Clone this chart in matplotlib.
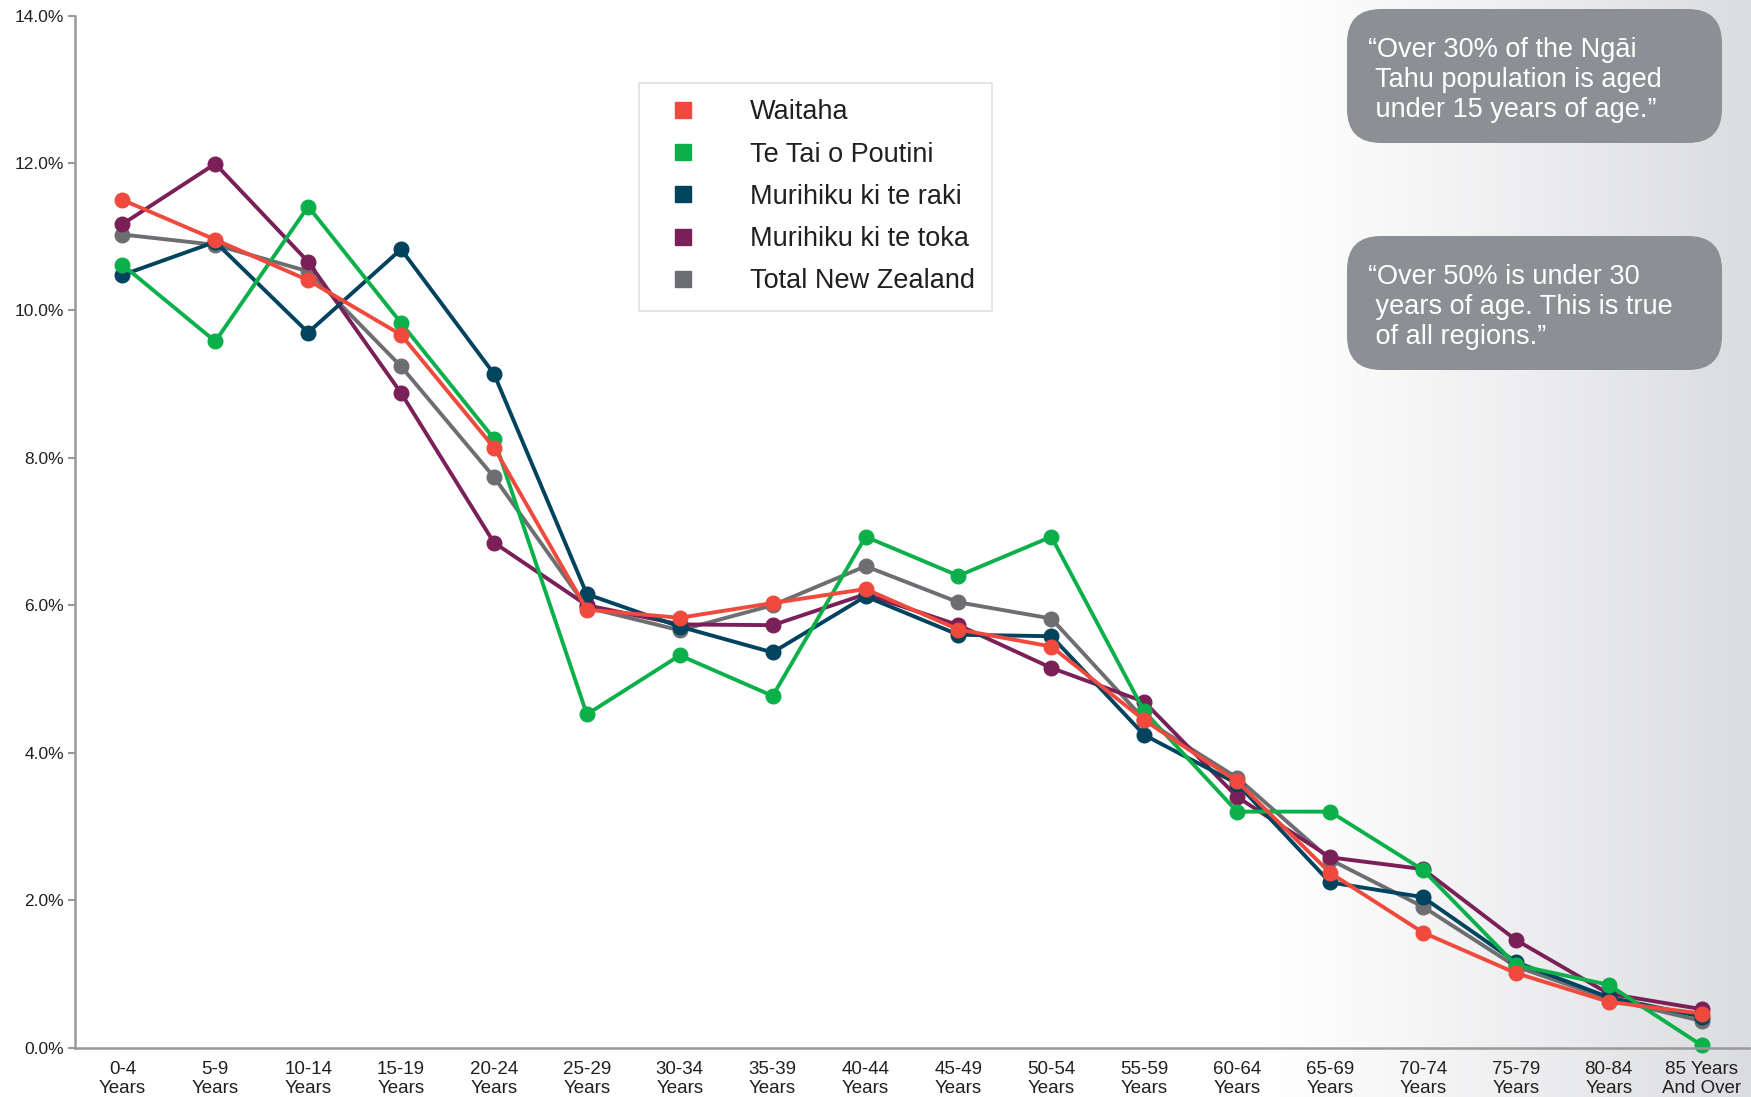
import numpy as np
import matplotlib
matplotlib.use('Agg')
import matplotlib.pyplot as plt
from matplotlib.lines import Line2D
from matplotlib.patches import FancyBboxPatch

plt.rcParams['font.family'] = ['Liberation Sans', 'DejaVu Sans']

# age bands
age_groups = ['0-4\nYears', '5-9\nYears', '10-14\nYears', '15-19\nYears', '20-24\nYears',
              '25-29\nYears', '30-34\nYears', '35-39\nYears', '40-44\nYears', '45-49\nYears',
              '50-54\nYears', '55-59\nYears', '60-64\nYears', '65-69\nYears', '70-74\nYears',
              '75-79\nYears', '80-84\nYears', '85 Years\nAnd Over']

# share of population per age band (%)
waitaha = [11.50, 10.96, 10.41, 9.67, 8.14, 5.94, 5.83, 6.03, 6.22, 5.67,
           5.44, 4.44, 3.61, 2.37, 1.56, 1.01, 0.62, 0.46]
te_tai_o_poutini = [10.62, 9.58, 11.41, 9.83, 8.26, 4.52, 5.32, 4.77, 6.93, 6.40,
                    6.93, 4.56, 3.20, 3.20, 2.41, 1.12, 0.85, 0.03]
murihiku_raki = [10.48, 10.93, 9.70, 10.83, 9.14, 6.15, 5.71, 5.36, 6.12, 5.60,
                 5.58, 4.24, 3.58, 2.24, 2.04, 1.16, 0.68, 0.42]
murihiku_toka = [11.17, 11.99, 10.66, 8.88, 6.85, 6.00, 5.74, 5.73, 6.15, 5.73,
                 5.15, 4.69, 3.40, 2.58, 2.42, 1.46, 0.73, 0.52]
total_nz = [11.03, 10.89, 10.53, 9.24, 7.74, 5.97, 5.66, 6.00, 6.53, 6.04,
            5.82, 4.45, 3.66, 2.55, 1.91, 1.10, 0.66, 0.36]

series_names = ['Waitaha', 'Te Tai o Poutini', 'Murihiku ki te raki',
                'Murihiku ki te toka', 'Total New Zealand']
series_values = [waitaha, te_tai_o_poutini, murihiku_raki, murihiku_toka, total_nz]
series_colors = ['#ef4a3d', '#0cb04b', '#00435e', '#7b1f58', '#6d6e72']

callout_1 = '\u201cOver 30% of the Ng\u0101i\n Tahu population is aged\n under 15 years of age.\u201d'
callout_2 = '\u201cOver 50% is under 30\n years of age. This is true\n of all regions.\u201d'

W, H = 1751, 1097
fig = plt.figure(figsize=(W / 100, H / 100), dpi=100)

# background layer in pixel units: gradient + callout boxes
bg = fig.add_axes([0, 0, 1, 1], zorder=0)
bg.set_xlim(0, W)
bg.set_ylim(H, 0)
bg.axis('off')
px = np.arange(W)
t = np.clip((px - 1260) / (W - 1260), 0, 1) ** 1.15
start = np.array([1.0, 1.0, 1.0])
end = np.array([219, 220, 223]) / 255
img = (start[None, :] * (1 - t[:, None]) + end[None, :] * t[:, None])[None, :, :]
bg.imshow(img, extent=(0, W, H, 0), aspect='auto')

for y0, txt in [(9, callout_1), (236, callout_2)]:
    bg.add_patch(FancyBboxPatch((1347, y0), 375, 134,
                                boxstyle='round,pad=0,rounding_size=34',
                                fc='#8c9094', ec='none'))
    bg.text(1368, y0 + 71, txt, color='white', fontsize=19.5,
            ha='left', va='center', linespacing=1.2)

# main chart
ax = fig.add_axes([75 / W, 1 - 1047.5 / H, (1749 - 75) / W, (1047.5 - 15.6) / H], zorder=1)
ax.set_facecolor('none')

x = np.arange(len(age_groups))
# draw total NZ first so the regions sit on top, Waitaha last
for name, vals, col in reversed(list(zip(series_names, series_values, series_colors))):
    ax.plot(x, vals, color=col, lw=2.8, marker='o', ms=10.5, clip_on=False, label=name)

ax.set_xlim(-0.51, 17.51)
ax.set_ylim(0, 14)
ax.set_xticks(x)
ax.set_xticklabels(age_groups, fontsize=13.5, color='#231f20', linespacing=1.14)
ax.set_yticks(np.arange(0, 15, 2))
ax.set_yticklabels([f'{v:.1f}%' for v in np.arange(0, 15, 2)], fontsize=12.5, color='#231f20')
ax.tick_params(axis='x', length=0, pad=9.5)
ax.tick_params(axis='y', length=5, width=1.5, color='#999999', pad=3)

for s in ['top', 'right']:
    ax.spines[s].set_visible(False)
for s in ['left', 'bottom']:
    ax.spines[s].set_color('#999999')
    ax.spines[s].set_linewidth(1.8)

handles = [Line2D([], [], ls='none', marker='s', ms=11, color=c) for c in series_colors]
leg = ax.legend(handles, series_names, loc='upper left',
                bbox_to_anchor=(639 / W, 1 - 83 / H), bbox_transform=fig.transFigure,
                fontsize=19.5, frameon=True, fancybox=False, borderpad=0.6,
                labelspacing=0.6, handlelength=2.07, handletextpad=1.44,
                borderaxespad=0)
leg.get_frame().set_edgecolor('#d9d9d9')
leg.get_frame().set_linewidth(1.2)
for txt in leg.get_texts():
    txt.set_color('#231f20')

fig.savefig('out.png', dpi=100)
